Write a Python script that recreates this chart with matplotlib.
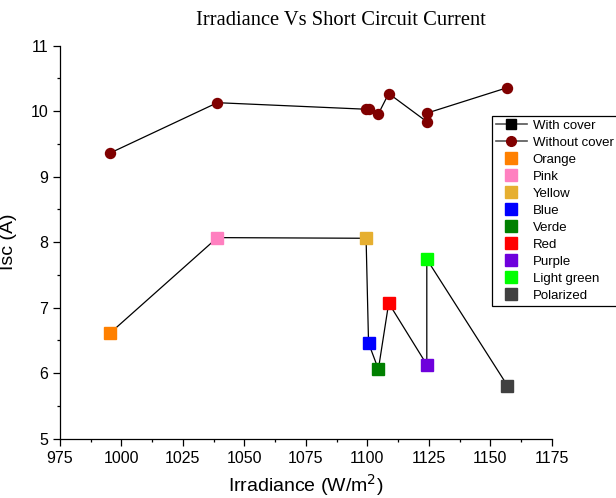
import matplotlib
matplotlib.use("Agg")
import matplotlib.pyplot as plt
from matplotlib.lines import Line2D
from matplotlib.ticker import MultipleLocator

# irradiance (W/m2) for each measurement
irradiance = [995.3, 1039.0, 1099.5, 1100.5, 1104.5, 1108.7, 1124.2, 1124.2, 1157.0]
# short circuit current (A)
isc_with_cover = [6.61, 8.07, 8.06, 6.46, 6.06, 7.07, 6.13, 7.74, 5.81]
isc_without_cover = [9.36, 10.13, 10.03, 10.04, 9.96, 10.27, 9.84, 9.97, 10.36]
cover_names = ["Orange", "Pink", "Yellow", "Blue", "Verde", "Red", "Purple",
               "Light green", "Polarized"]
cover_colors = ["#FF8000", "#FF80C0", "#E6AF30", "#0000FF", "#008000",
                "#FF0000", "#6E00DC", "#00FF00", "#404040"]

plt.rcParams['font.family'] = ['Liberation Sans', 'DejaVu Sans']

fig = plt.figure(figsize=(6.16, 4.98), dpi=100)
ax = fig.add_axes([60 / 616, 1 - 438.7 / 498, 491.7 / 616, 393 / 498])

ax.plot(irradiance, isc_with_cover, color="black", lw=0.9, zorder=2)
for x, y, c in zip(irradiance, isc_with_cover, cover_colors):
    ax.plot(x, y, marker="s", ms=8.6, color=c, mec=c, ls="none", zorder=3)

ax.plot(irradiance, isc_without_cover, color="black", lw=0.9, zorder=2)
ax.plot(irradiance, isc_without_cover, marker="o", ms=7.2, color="#800000",
        ls="none", zorder=3)

ax.set_xlim(975, 1175)
ax.set_ylim(5, 11)
ax.xaxis.set_major_locator(MultipleLocator(25))
ax.xaxis.set_minor_locator(MultipleLocator(12.5))
ax.yaxis.set_major_locator(MultipleLocator(1))
ax.yaxis.set_minor_locator(MultipleLocator(0.5))
ax.spines["top"].set_visible(False)
ax.spines["right"].set_visible(False)
for s in ("left", "bottom"):
    ax.spines[s].set_linewidth(0.9)
ax.tick_params(which="major", direction="out", length=5, width=0.9, labelsize=11.5)
ax.tick_params(which="minor", direction="out", length=2.5, width=0.9)

ax.set_xlabel("Irradiance (W/m$^2$)", fontsize=14, labelpad=5)
ax.set_ylabel("Isc (A)", fontsize=14)
ax.yaxis.set_label_coords(-0.0875, 0.5)

fig.text(341 / 616, 1 - 20 / 498, "Irradiance Vs Short Circuit Current",
         family="Liberation Serif", fontsize=14.8, ha="center", va="center")

handles = [
    Line2D([], [], color="#555555", lw=1.2, marker="s", ms=7, mfc="black", mec="black"),
    Line2D([], [], color="#555555", lw=1.2, marker="o", ms=7, mfc="#800000", mec="#800000"),
]
labels = ["With cover", "Without cover"]
for name, c in zip(cover_names, cover_colors):
    handles.append(Line2D([], [], ls="none", marker="s", ms=8.5, color=c))
    labels.append(name)

leg = fig.legend(handles, labels, loc="upper left",
                 bbox_to_anchor=(491.7 / 616, 1 - 115.7 / 498),
                 fontsize=9.5, frameon=True, fancybox=False, framealpha=1,
                 edgecolor="black", borderaxespad=0, labelspacing=0.36,
                 handlelength=2.4, handletextpad=0.4, borderpad=0.3)
leg.get_frame().set_linewidth(0.9)

fig.savefig("out.png", dpi=100)
